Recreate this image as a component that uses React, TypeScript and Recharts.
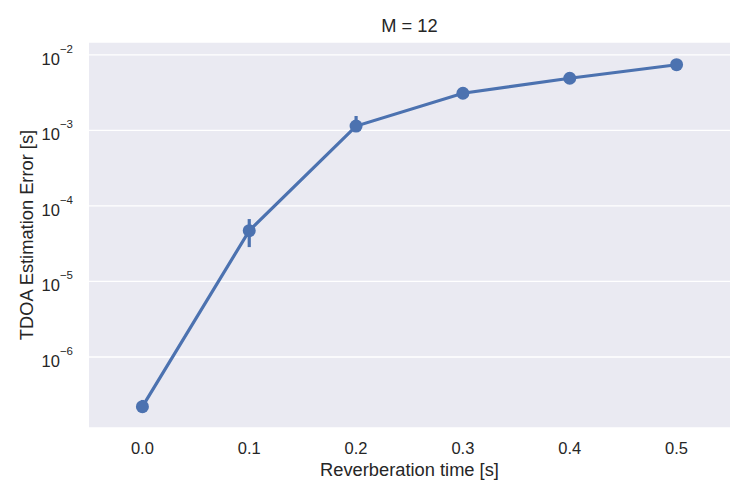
import { CartesianGrid, ErrorBar, Line, LineChart, XAxis, YAxis } from 'recharts'

const FONT = '"Liberation Sans", Arial, sans-serif'
const INK = '#262626'
const BLUE = '#4C72B0'

// reverberation time [s]
const reverbTimes = [0.0, 0.1, 0.2, 0.3, 0.4, 0.5]
// mean TDOA error [s] and the 95% CI bounds
const meanError = [2.2e-7, 4.7e-5, 1.14e-3, 3.1e-3, 4.9e-3, 7.4e-3]
const ciLow = [1.95e-7, 2.85e-5, 0.98e-3, 2.8e-3, 4.6e-3, 6.9e-3]
const ciHigh = [2.7e-7, 6.7e-5, 1.55e-3, 3.7e-3, 5.3e-3, 7.9e-3]
const xTicks = [0.0, 0.1, 0.2, 0.3, 0.4, 0.5]
const yTicks = [1e-6, 1e-5, 1e-4, 1e-3, 1e-2]

const data = reverbTimes.map((t, i) => ({
  t,
  err: meanError[i],
  ci: [meanError[i] - ciLow[i], ciHigh[i] - meanError[i]],
}))

function XTick({ x, y, payload }: any) {
  return (
    <text x={x} y={y + 26} textAnchor="middle" fontSize={16.5} fontFamily={FONT} fill={INK}>
      {payload.value.toFixed(1)}
    </text>
  )
}

function YTick({ x, y, payload }: any) {
  const exp = Math.round(Math.log10(payload.value))
  return (
    <text x={x - 16} y={y + 10} textAnchor="end" fontFamily={FONT} fill={INK}>
      <tspan fontSize={16.5}>10</tspan>
      <tspan fontSize={11.5} dy={-12}>{`\u2212${Math.abs(exp)}`}</tspan>
    </text>
  )
}

function YTitle({ viewBox }: any) {
  const cx = 26
  const cy = viewBox.y + viewBox.height / 2
  return (
    <text x={cx} y={cy} transform={`rotate(-90 ${cx} ${cy})`} textAnchor="middle" dominantBaseline="central" fontSize={18.3} fontFamily={FONT} fill={INK}>
      TDOA Estimation Error [s]
    </text>
  )
}

function XTitle({ viewBox }: any) {
  return (
    <text x={viewBox.x + viewBox.width / 2} y={viewBox.y + 48} textAnchor="middle" fontSize={18.3} fontFamily={FONT} fill={INK}>
      Reverberation time [s]
    </text>
  )
}

export default function App() {
  return (
    <div style={{ position: 'absolute', left: 0, top: 0, width: 750, height: 500, background: '#fff' }}>
      <div style={{ position: 'absolute', left: 89, width: 641, top: 15, textAlign: 'center', fontFamily: FONT, fontSize: 18.3, color: INK }}>
        M = 12
      </div>
      <LineChart width={750} height={500} data={data} margin={{ top: 42, right: 20, bottom: 0, left: 0 }}>
        <CartesianGrid vertical={false} stroke="#ffffff" strokeWidth={1.3} fill="#EAEAF2" />
        <XAxis
          dataKey="t"
          type="number"
          domain={[-0.05, 0.55]}
          ticks={xTicks}
          height={72}
          tickSize={0}
          tickMargin={0}
          axisLine={false}
          tickLine={false}
          tick={<XTick />}
          label={<XTitle />}
        />
        <YAxis
          scale="log"
          type="number"
          domain={[Math.pow(10, -6.94), Math.pow(10, -1.83)]}
          allowDataOverflow
          ticks={yTicks}
          width={89}
          tickSize={0}
          tickMargin={0}
          axisLine={false}
          tickLine={false}
          tick={<YTick />}
          label={<YTitle />}
        />
        <Line
          dataKey="err"
          stroke={BLUE}
          strokeWidth={3.2}
          dot={{ r: 6.5, fill: BLUE, stroke: BLUE, strokeWidth: 0 }}
          activeDot={false}
          isAnimationActive={false}
        >
          <ErrorBar dataKey="ci" direction="y" width={0} stroke={BLUE} strokeWidth={3.2} isAnimationActive={false} />
        </Line>
      </LineChart>
    </div>
  )
}
